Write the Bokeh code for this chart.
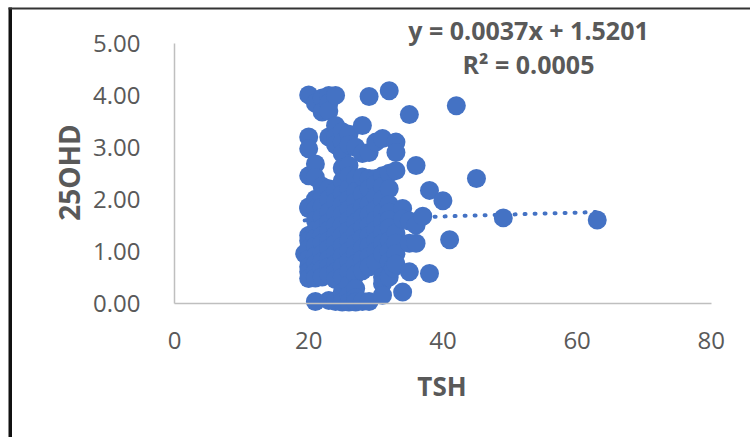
from bokeh.plotting import figure
from bokeh.models import Range1d, Label, LinearAxis, FixedTicker, BoxAnnotation, PrintfTickFormatter
from bokeh.embed import file_html
from bokeh.resources import INLINE
import math

columns = {
    19.4: [0.95],
    20: [4.01, 3.2, 2.97, 2.45, 1.85, 1.82, 1.3, 1.2, 1.05, 0.85, 0.7, 0.6, 0.47],
    21: [3.85, 2.68, 2.42, 2.0, 1.8, 1.6, 1.4, 1.25, 1.1, 0.9, 0.75, 0.6, 0.48, 0.03],
    22: [3.95, 3.68, 2.25, 2.05, 1.85, 1.65, 1.45, 1.3, 1.15, 0.95, 0.8, 0.65, 0.5],
    23: [4.0, 3.85, 3.7, 3.2, 2.2, 2.0, 1.75, 1.55, 1.4, 1.2, 1.05, 0.85, 0.7, 0.55, 0.05],
    24: [4.0, 3.42, 3.2, 3.05, 2.15, 1.95, 1.7, 1.5, 1.3, 1.15, 0.95, 0.75, 0.6, 0.45, 0.03],
    25: [3.3, 3.1, 2.88, 2.6, 2.35, 2.1, 1.9, 1.7, 1.5, 1.3, 1.1, 0.9, 0.7, 0.5, 0.2, 0.02],
    26: [3.25, 3.05, 2.65, 2.45, 2.2, 2.0, 1.8, 1.6, 1.4, 1.2, 1.0, 0.8, 0.6, 0.35, 0.15, 0.02],
    27: [3.0, 2.4, 2.15, 1.95, 1.75, 1.55, 1.35, 1.15, 0.95, 0.75, 0.55, 0.28, 0.1, 0.02],
    28: [3.42, 2.88, 2.43, 2.1, 1.85, 1.65, 1.45, 1.25, 1.05, 0.85, 0.62, 0.03],
    29: [3.98, 2.9, 2.4, 2.2, 1.9, 1.7, 1.5, 1.3, 1.1, 0.9, 0.7, 0.03],
    30: [3.1, 2.4, 2.3, 2.05, 1.8, 1.6, 1.4, 1.2, 1.0, 0.78],
    31: [3.17, 2.45, 2.25, 2.0, 1.75, 1.55, 1.35, 1.15, 0.95, 0.5, 0.37, 0.15],
    32: [4.09, 2.5, 2.2, 1.9, 1.75, 1.6, 1.45, 1.2, 1.0, 0.8, 0.5],
    32.6: [0.68],
    33: [3.1, 2.9, 2.55, 1.35, 1.15, 0.95, 0.75],
    34: [1.82, 1.62, 0.21],
    35: [3.63, 1.58, 1.15, 0.6],
    36: [2.65, 1.5, 1.15],
    37: [1.67],
    38: [2.17, 0.57],
    40: [1.97],
    41: [1.22],
    42: [3.80],
    45: [2.4],
    49: [1.64],
    63: [1.6],
}
tsh = [x for x, ys in columns.items() for _ in ys]
ohd = [y for ys in columns.values() for y in ys]

trend_x = [19.4, 63]
trend_y = [1.592, 1.753]
x_ticks = [0, 20, 40, 60, 80]
y_ticks = [0, 1, 2, 3, 4, 5]
BLUE = "#4472C4"
GREY = "#595959"
AXIS = "#BFBFBF"
FONT = "Open Sans"

W, H = 750, 437
X0, XS = 174, 6.71      # pixel of x=0, pixels per unit
Y0, YS = 302.5, 51.9    # pixel of y=0, pixels per unit
dx = lambda px: (px - X0) / XS
dy = lambda py: (Y0 - py) / YS

p = figure(width=W, height=H, output_backend="svg", toolbar_location=None,
           x_range=Range1d(dx(0), dx(W)), y_range=Range1d(dy(H), dy(0)),
           x_axis_location=None, y_axis_location=None,
           min_border_left=0, min_border_right=0, min_border_top=0, min_border_bottom=0)
p.grid.visible = False
p.outline_line_color = None

xa = LinearAxis(ticker=FixedTicker(ticks=x_ticks), fixed_location=0, bounds=(0, 80))
ya = LinearAxis(ticker=FixedTicker(ticks=y_ticks), fixed_location=0, bounds=(0, 5))
ya.formatter = PrintfTickFormatter(format="%.2f")
for a in (xa, ya):
    a.axis_line_color = AXIS
    a.axis_line_width = 1.5
    a.major_tick_line_color = None
    a.minor_tick_line_color = None
    a.major_label_text_font = FONT
    a.major_label_text_font_size = "24px"
    a.major_label_text_color = GREY
xa.major_label_standoff = 23
ya.major_label_standoff = 28
p.add_layout(xa, "below")
p.add_layout(ya, "left")

p.line(trend_x, trend_y, line_color=BLUE, line_width=4, line_dash="1 9", line_cap="round")
p.scatter(tsh, ohd, size=19, fill_color=BLUE, line_color=BLUE, line_width=0, marker="circle")

def text(txt, px, py, size, angle=0.0):
    p.add_layout(Label(x=dx(px), y=dy(py), text=txt, text_align="center", text_baseline="middle",
                       text_font=FONT, text_font_size=size, text_font_style="bold",
                       text_color=GREY, angle=angle))

text("y = 0.0037x + 1.5201", 528, 29.5, "25px")
text("R\u00b2 = 0.0005", 528, 63.5, "25px")
text("TSH", 441.5, 385, "26px")
text("25OHD", 68, 172, "28px", angle=math.pi / 2)

p.add_layout(BoxAnnotation(left=dx(8), right=dx(11.5), top=dy(7), bottom=dy(H), fill_color="#111111",
                           fill_alpha=1, line_color=None))
p.add_layout(BoxAnnotation(left=dx(8), right=dx(W), top=dy(7), bottom=dy(9), fill_color="#333333",
                           fill_alpha=1, line_color=None))

open("out.html", "w").write(file_html(p, INLINE))
